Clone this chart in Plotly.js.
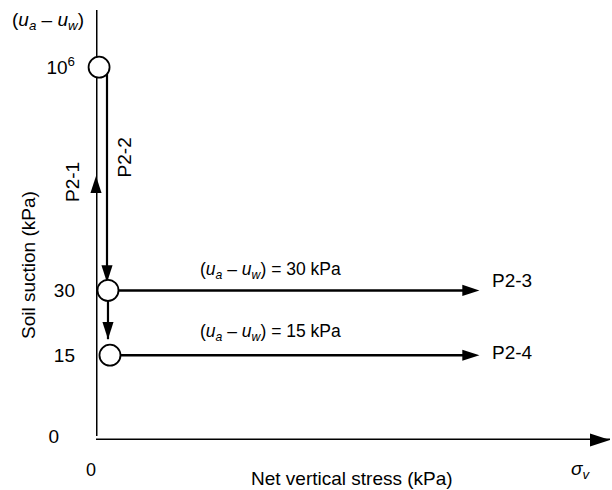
<!DOCTYPE html>
<html>
<head>
<meta charset="utf-8">
<script src="https://cdn.plot.ly/plotly-3.0.1.min.js"></script>
<style>html,body{margin:0;padding:0;background:#fff;}#chart{width:612px;height:490px;}</style>
</head>
<body>
<div id="chart"></div>
<script>
// ---- data ----
const suctionValues = [0, 15, 30, 1e6];
const suctionLabels = ['0\u00a0\u00a0\u00a0', '15', '30', '10<sup>6</sup>'];
const stateSuction = [0, 1e6, 30, 15];
const stateNetStress = [0, 0, 0, 0];
const pathNames = ['P2-1', 'P2-2', 'P2-3', 'P2-4'];
const pathStartSuction = [0, 1e6, 30, 15];
const pathEndSuction = [1e6, 30, 30, 15];
const pathEndStress = [0, 0, 73, 73];     // schematic net vertical stress reached (axis units)
const stepStartSuction = [30];            // intermediate wetting step 30 -> 15
const stepEndSuction = [15];
const netStressLabels = ['0\u00a0\u00a0'];
const netStressTicks = [0];

// ---- schematic (broken) suction axis ----
const suctionPos = {0: 0, 15: 1.01, 30: 1.82, 1000000: 4.61};
const ys = s => suctionPos[s];
const stateOffset = [-0.4, 0.6, 2.33, 2.72];   // drawing offsets of circles off the axis
const lineOffset = {1: 2.14, 30: 2.33, 15: 2.72};

const traces = [];
const lineStyle = {color: '#000', width: 2.2};

// axes (P2-1 path lies on the suction axis)
traces.push({x: [-0.3, 100], y: [-0.05, -0.05], mode: 'lines', line: {color: '#000', width: 3}, cliponaxis: false, hoverinfo: 'skip'});
traces.push({x: [0, 0], y: [0, 5.33], mode: 'lines', line: {color: '#000', width: 3}, cliponaxis: false, hoverinfo: 'skip'});

// P2-2: 1e6 -> 30
traces.push({x: [lineOffset[1], lineOffset[1]], y: [ys(pathStartSuction[1]), ys(pathEndSuction[1]) + 0.1], mode: 'lines', line: lineStyle, cliponaxis: false});
// 30 -> 15
traces.push({x: [lineOffset[30], lineOffset[30]], y: [ys(stepStartSuction[0]), ys(stepEndSuction[0]) + 0.2], mode: 'lines', line: lineStyle, cliponaxis: false});
// P2-3 and P2-4 horizontal loading
[2, 3].forEach(i => {
  traces.push({x: [lineOffset[pathStartSuction[i]], pathEndStress[i]], y: [ys(pathStartSuction[i]), ys(pathEndSuction[i])], mode: 'lines', line: {color: '#000', width: 2.5}, cliponaxis: false});
});

// arrow heads
traces.push({
  x: [0, lineOffset[1], lineOffset[30], pathEndStress[2] + 1.6, pathEndStress[3] + 1.6],
  y: [3.25, ys(pathEndSuction[1]) + 0.1, ys(stepEndSuction[0]) + 0.2, ys(30), ys(15)],
  mode: 'markers', cliponaxis: false,
  marker: {symbol: 'arrow', size: 18, color: '#000', angle: [0, 180, 180, 90, 90], line: {width: 0}}
});
// axis arrow heads
traces.push({
  x: [100, 0], y: [-0.05, 5.33], mode: 'markers', cliponaxis: false,
  marker: {symbol: 'arrow', size: 21, color: '#000', angle: [90, 0], line: {width: 0}}
});

// state circles
traces.push({
  x: stateNetStress.map((v, i) => v + stateOffset[i]),
  y: stateSuction.map(ys),
  mode: 'markers', cliponaxis: false,
  marker: {symbol: 'circle', size: 21, color: '#fff', line: {color: '#000', width: 1.8}}
});

// pixel -> paper helpers for labels outside the plotting area
const L = 96, T = 10, W = 514, H = 430;
const px = p => (p - L) / W;
const py = p => (T + H - p) / H;

const uaw = '(<i>u<sub>a</sub></i> \u2013 <i>u<sub>w</sub></i>)';
const annotations = [
  {x: 34, y: 2.075, text: uaw + ' = 30 kPa', font: {size: 17.5}},
  {x: 34, y: 1.3, text: uaw + ' = 15 kPa', font: {size: 17.5}},
  {x: 76.6, y: 1.95, text: pathNames[2], xanchor: 'left'},
  {x: 76.6, y: 1.05, text: pathNames[3], xanchor: 'left'},
  {x: 5.6, y: 3.48, text: pathNames[1], textangle: -90},
].map(a => Object.assign({xref: 'x', yref: 'y', showarrow: false, xanchor: 'center', yanchor: 'middle'}, a))
.concat([
  {x: px(48), y: py(21), text: uaw},
  {x: px(72), y: py(182), text: pathNames[0], textangle: -90},
  {x: px(580), y: py(470), text: '<i>\u03c3<sub>v</sub></i>'},
  {x: px(352), y: py(478), text: 'Net vertical stress (kPa)'},
  {x: px(28), y: py(265), text: 'Soil suction (kPa)', textangle: -90}
].map(a => Object.assign({xref: 'paper', yref: 'paper', showarrow: false, xanchor: 'center', yanchor: 'middle'}, a)));

const layout = {
  width: 612, height: 490,
  margin: {l: L, r: 612 - L - W, t: T, b: 490 - T - H},
  paper_bgcolor: '#fff', plot_bgcolor: '#fff',
  showlegend: false,
  font: {family: 'Liberation Sans, Arial, sans-serif', size: 19, color: '#000'},
  xaxis: {range: [0, 100], showgrid: false, zeroline: false, showline: false,
          tickmode: 'array', tickvals: netStressTicks, ticktext: netStressLabels,
          ticks: '', ticklen: 0, ticklabelstandoff: 17, tickfont: {size: 18}},
  yaxis: {range: [-0.05, 5.325], showgrid: false, zeroline: false, showline: false,
          tickmode: 'array', tickvals: suctionValues.map(ys), ticktext: suctionLabels,
          ticks: '', ticklen: 0, ticklabelstandoff: 20, tickfont: {size: 19}},
  annotations: annotations
};

Plotly.newPlot('chart', traces, layout, {staticPlot: true, displayModeBar: false});
</script>
</body>
</html>
